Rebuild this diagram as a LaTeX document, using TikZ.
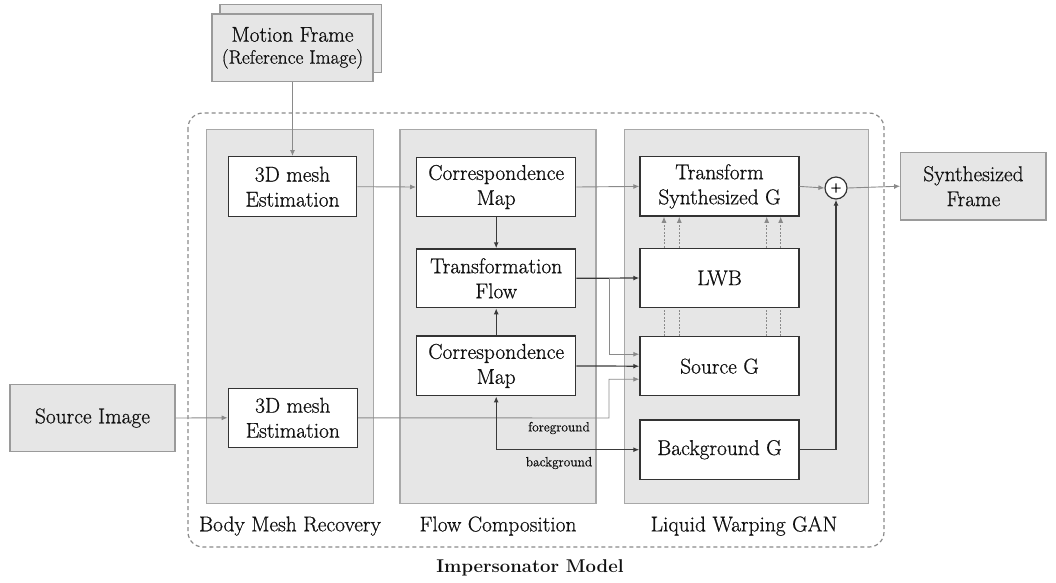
\documentclass[tikz,border=0pt]{standalone}
\usepackage{fontspec}
\newfontfamily\mfont{Latin Modern Roman}[FakeBold=0.7]
\usetikzlibrary{arrows.meta}
\definecolor{panelfill}{HTML}{E6E6E6}
\definecolor{panelborder}{HTML}{A8A8A8}
\definecolor{outborder}{HTML}{9A9A9A}
\definecolor{boxborder}{HTML}{333333}
\definecolor{glinec}{HTML}{8A8A8A}
\definecolor{dlinec}{HTML}{3A3A3A}
\definecolor{txt}{HTML}{111111}
\newcommand{\mainfs}{\mfont\fontsize{21.4}{25}\selectfont}
\newcommand{\smallfs}{\mfont\fontsize{13.4}{16}\selectfont}
\begin{document}
\begin{tikzpicture}[x=1pt,y=-1pt,
  panel/.style={draw=panelborder, fill=panelfill, line width=1.3pt, inner sep=0pt},
  inbox/.style={draw=boxborder, fill=white, line width=1.4pt, align=center, font=\mainfs, text=txt, inner sep=0pt},
  outbox/.style={draw=outborder, fill=panelfill, line width=1.2pt, align=center, font=\mainfs, text=txt, inner sep=0pt},
  gline/.style={draw=glinec, line width=0.9pt},
  dline/.style={draw=dlinec, line width=1.2pt},
  dotline/.style={draw=glinec, line width=0.9pt, dash pattern=on 2pt off 1.5pt},
  tip/.style={-{Latex[length=6pt,width=5pt]}},
  lbl/.style={font=\mainfs, text=txt, inner sep=0pt},
  slbl/.style={font=\smallfs, text=txt, inner sep=0pt}
]
\useasboundingbox (0,0) rectangle (1056,582);

% outer dashed model boundary
\draw[draw=glinec, line width=1.2pt, dash pattern=on 4pt off 3pt, rounded corners=15pt] (188,113) rectangle (884,547);

% panels
\node[panel, minimum width=166.6pt, minimum height=374pt] (p1) at (290,316.3) {};
\node[panel, minimum width=196pt, minimum height=374pt] (p2) at (498,316.3) {};
\node[panel, minimum width=243.5pt, minimum height=374pt] (p3) at (746.5,316.3) {};

\node[lbl] (l1) at (290,526) {Body Mesh Recovery};
\node[lbl] (l2) at (498,526) {Flow Composition};
\node[lbl] (l3) at (744,526) {Liquid Warping GAN};
\node[lbl, font=\normalfont\fontsize{18.5}{22}\selectfont\bfseries] (l4) at (530,568) {Impersonator Model};

% outer input/output boxes
\node[outbox, minimum width=161.7pt, minimum height=68pt] (mfback) at (300.8,38.7) {};
\node[outbox, minimum width=161pt, minimum height=67.7pt] (mf) at (292.5,47.8)
  {Motion Frame\\[-3pt]{\fontsize{19.4}{22}\selectfont (Reference Image)}};
\node[outbox, minimum width=165pt, minimum height=67.7pt] (src) at (92.5,418) {Source Image};
\node[outbox, minimum width=145.3pt, minimum height=67.7pt] (sf) at (973.4,186.2) {Synthesized\\Frame};

% body mesh recovery
\node[inbox, minimum width=128.4pt, minimum height=60pt] (mesh1) at (292.5,186.7) {3D mesh\\Estimation};
\node[inbox, minimum width=129pt, minimum height=59pt] (mesh2) at (292.8,417.8) {3D mesh\\Estimation};

% flow composition
\node[inbox, minimum width=159pt, minimum height=59.4pt] (cm1) at (496.2,187) {Correspondence\\Map};
\node[inbox, minimum width=159pt, minimum height=58.7pt] (tf) at (496.2,278.3) {Transformation\\Flow};
\node[inbox, minimum width=159pt, minimum height=59.7pt] (cm2) at (496.2,365.9) {Correspondence\\Map};

% liquid warping GAN
\node[inbox, minimum width=159pt, minimum height=59.3pt] (tsg) at (719.5,186.4) {Transform\\Synthesized G};
\node[inbox, minimum width=159pt, minimum height=59.4pt] (lwb) at (719.5,278) {LWB};
\node[inbox, minimum width=159pt, minimum height=59pt] (sg) at (719.5,366.2) {Source G};
\node[inbox, minimum width=159pt, minimum height=59.3pt] (bg) at (719.5,449.7) {Background G};
\node[circle, draw=boxborder, fill=white, line width=1.2pt, minimum size=22pt, inner sep=0pt, font=\mfont\fontsize{15}{15}\selectfont] (plus) at (836,188) {+};

% small labels
\node[slbl] (fg) at (559,428) {foreground};
\node[slbl] (bgl) at (559,463) {background};

% coordinates for branches
\coordinate (br1) at (609,278.3);
\coordinate (br2) at (609,418);

% connectors
\draw[gline,tip] (mf.south) -- (mesh1.north);
\draw[gline,tip] (src.east) -- (mesh2.west);
\draw[gline,tip] (mesh1.east) -- (cm1.west);
\draw[gline,tip] (cm1.east) -- (tsg.west);
\draw[gline,tip] (tsg.east) -- (plus.west);
\draw[gline,tip] (plus.east) -- (sf.west);
\draw[dline,tip] (cm1.south) -- (tf.north);
\draw[dline,tip] (cm2.north) -- (tf.south);
\draw[dline,tip] (tf.east) -- (lwb.west);
\draw[gline,tip] (br1) |- ([yshift=12pt]sg.west);
\draw[gline,tip] (mesh2.east) -- (br2) |- ([yshift=-13pt]sg.west);
\draw[dline,tip] (cm2.east) -- (sg.west);
\draw[dline,{Latex[length=6pt,width=5pt]}-{Latex[length=6pt,width=5pt]}] (cm2.south) |- (bg.west);
\draw[dline,tip] (bg.east) -| (plus.south);

% dotted links
\foreach \dx in {-55.5,-40.2,47.2,61.2}{
  \draw[dotline,tip] ([xshift=\dx pt]lwb.north) -- ([xshift=\dx pt]tsg.south);
  \draw[dotline] ([xshift=\dx pt]sg.north) -- ([xshift=\dx pt]lwb.south);
}
\end{tikzpicture}
\end{document}
